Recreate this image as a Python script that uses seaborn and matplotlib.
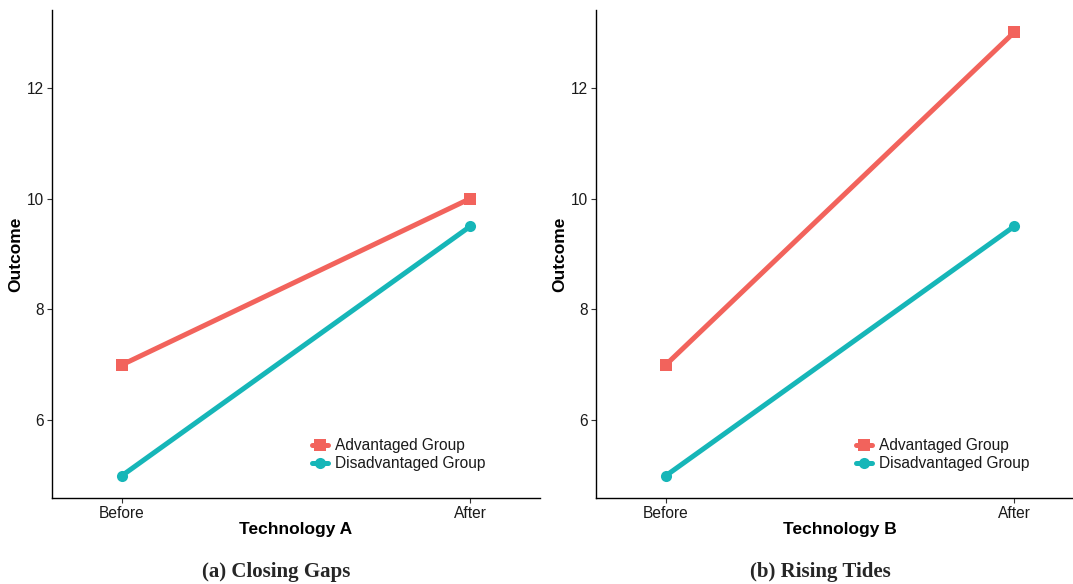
import pandas as pd
import seaborn as sns
import matplotlib
matplotlib.use("Agg")
import matplotlib.pyplot as plt

# data
times = ["Before", "After"]
groups = ["Advantaged Group", "Disadvantaged Group"]
adv_a = [7, 10]
dis_a = [5, 9.5]
adv_b = [7, 13]
dis_b = [5, 9.5]

panels = [
    ("Technology A", "(a) Closing Gaps", adv_a, dis_a),
    ("Technology B", "(b) Rising Tides", adv_b, dis_b),
]

palette = {"Advantaged Group": "#F2635C", "Disadvantaged Group": "#16B6B8"}
markers = {"Advantaged Group": "s", "Disadvantaged Group": "o"}

sns.set_theme(style="ticks")
plt.rcParams["font.family"] = ["Liberation Sans", "DejaVu Sans"]

fig = plt.figure(figsize=(10.73, 5.84), dpi=100)
lefts = [52 / 1073, 596 / 1073]
w = 488 / 1073
b = (584 - 498) / 584
h = 488 / 584

for (xlab, caption, adv, dis), lx in zip(panels, lefts):
    ax = fig.add_axes([lx, b, w, h])
    df = pd.DataFrame({
        "time": times * 2,
        "outcome": adv + dis,
        "group": [groups[0]] * 2 + [groups[1]] * 2,
    })
    sns.lineplot(data=df, x="time", y="outcome", hue="group", style="group",
                 markers=markers, dashes=False, palette=palette,
                 linewidth=3.6, markersize=8, markeredgewidth=0, ax=ax)
    ax.set_xlim(-0.2, 1.2)
    ax.set_ylim(4.6, 13.4)
    ax.set_yticks([6, 8, 10, 12])
    ax.set_xlabel(xlab, fontsize=12.5, fontweight="bold", labelpad=1,
                  color="black")
    ax.set_ylabel("Outcome", fontsize=12.5, fontweight="bold", labelpad=3,
                  color="black")
    ax.tick_params(labelsize=11.2, length=3.5, width=0.8, colors="#333333",
                   labelcolor="#1a1a1a", pad=2)
    for s in ["left", "bottom"]:
        ax.spines[s].set_linewidth(1.0)
        ax.spines[s].set_color("black")
    sns.despine(ax=ax)
    leg = ax.legend(loc="lower left", bbox_to_anchor=(0.52, 0.042),
                    frameon=False, fontsize=11.2, handlelength=1.0,
                    handletextpad=0.5, borderaxespad=0, labelspacing=0.2)
    for line in leg.get_lines():
        line.set_linewidth(3.6)
    for t in leg.get_texts():
        t.set_color("#1a1a1a")
    ax.text(0.46, -0.152, caption, transform=ax.transAxes, ha="center",
            va="center", fontsize=15, fontweight="bold",
            family=["Liberation Serif", "DejaVu Serif"])

fig.savefig("out.png", dpi=100)
